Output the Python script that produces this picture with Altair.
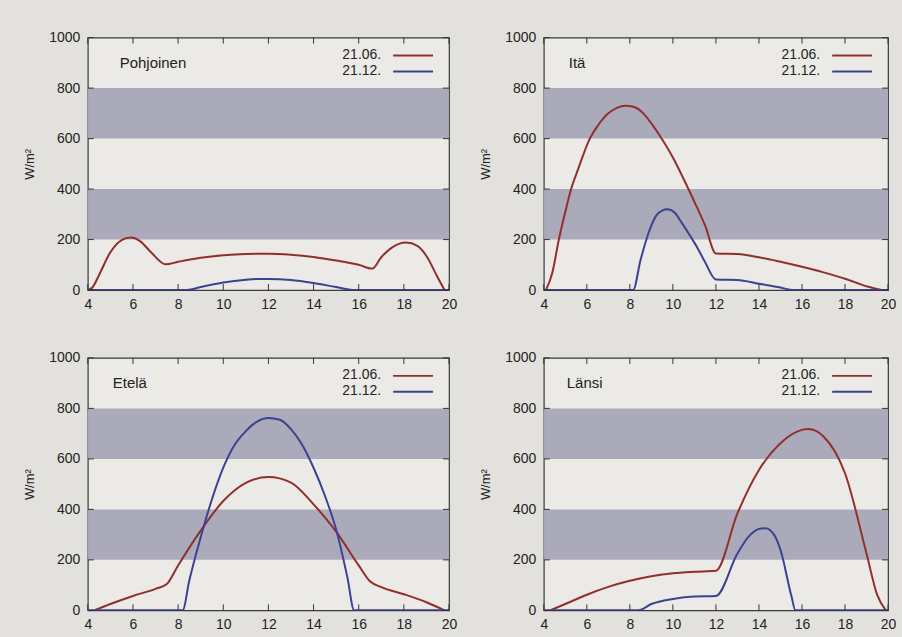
import altair as alt
import pandas as pd

# ---------------- data ----------------
north_jun_x = [4.0, 4.2, 4.5, 5.0, 5.5, 5.9, 6.3, 6.8, 7.45, 8, 9, 10, 11, 12, 13, 14, 15, 16, 16.6, 17, 17.5, 18.1, 18.6, 19, 19.5, 19.8]
north_jun_y = [0, 10, 60, 150, 198, 208, 195, 150, 102, 112, 128, 138, 143, 144, 140, 131, 117, 100, 85, 130, 170, 188, 175, 135, 50, 0]
north_dec_x = [4, 8.4, 9, 10, 11, 11.5, 12, 13, 14, 15, 15.8, 20]
north_dec_y = [0, 0, 12, 30, 41, 44, 44, 40, 28, 12, 0, 0]

east_jun_x = [4.1, 4.4, 4.7, 5.0, 5.27, 5.6, 6.14, 6.5, 7.0, 7.4, 7.8, 8.2, 8.6, 9.0, 9.4, 10.0, 10.5, 11.0, 11.5, 12.0, 13, 14, 15, 16, 17, 18, 19, 19.7]
east_jun_y = [0, 70, 200, 310, 400, 480, 600, 650, 700, 722, 730, 725, 702, 660, 610, 525, 440, 350, 255, 145, 143, 130, 112, 92, 70, 45, 15, 0]
east_dec_x = [4, 8.15, 8.5, 8.9, 9.25, 9.5, 9.75, 10.1, 10.4, 10.8, 11.15, 11.5, 12.0, 13, 14, 15, 15.6, 20]
east_dec_y = [0, 0, 120, 234, 298, 315, 320, 305, 268, 215, 166, 110, 42, 40, 25, 10, 0, 0]

south_jun_x = [4.3, 5, 6, 7, 7.5, 8, 9, 10, 11, 12, 13, 14, 15, 16, 16.5, 17, 18, 19, 19.8]
south_jun_y = [0, 25, 57, 85, 104, 178, 316, 433, 505, 528, 506, 420, 312, 178, 115, 92, 64, 32, 0]
south_dec_x = [4, 8.2, 8.5, 9, 9.5, 10, 10.5, 11, 11.5, 12, 12.5, 13, 13.5, 14, 14.5, 15, 15.5, 15.8, 20]
south_dec_y = [0, 0, 120, 290, 440, 565, 655, 710, 748, 762, 755, 718, 655, 565, 455, 320, 130, 0, 0]

west_jun_x = [4.3, 5, 6, 7, 8, 9, 10, 11, 12, 13, 14, 15, 16, 16.3, 17, 18, 19, 19.5, 19.9]
west_jun_y = [0, 25, 62, 93, 117, 135, 147, 153, 157, 384, 556, 662, 715, 718, 689, 543, 225, 60, 0]
west_dec_x = [4, 8.4, 9, 10, 11, 12, 13, 13.5, 14, 14.3, 14.7, 15, 15.5, 15.7, 20]
west_dec_y = [0, 0, 25, 45, 55, 57, 225, 290, 322, 325, 300, 240, 60, 0, 0]

series_names = ["21.06.", "21.12."]
panel_names = ["Pohjoinen", "Itä", "Etelä", "Länsi"]
x_ticks = [4, 6, 8, 10, 12, 14, 16, 18, 20]
y_ticks = [0, 200, 400, 600, 800, 1000]
band_low = [200, 600]
band_high = [400, 800]

RED = "#902f2c"
BLUE = "#3d4192"
FONT = "Liberation Sans"
COLORS = [RED, BLUE]

raw = {
    "Pohjoinen": [(north_jun_x, north_jun_y), (north_dec_x, north_dec_y)],
    "Itä": [(east_jun_x, east_jun_y), (east_dec_x, east_dec_y)],
    "Etelä": [(south_jun_x, south_jun_y), (south_dec_x, south_dec_y)],
    "Länsi": [(west_jun_x, west_jun_y), (west_dec_x, west_dec_y)],
}

H = 253

xt_df = pd.DataFrame({"t": x_ticks})
yt_df = pd.DataFrame({"t": y_ticks})
band_df = pd.DataFrame({"lo": band_low, "hi": band_high})


def panel(name, W, label_x):
    rows = []
    for s, (xs, ys) in zip(series_names, raw[name]):
        for a, b in zip(xs, ys):
            rows.append({"h": a, "v": b, "s": s})
    df = pd.DataFrame(rows)

    xsc = alt.Scale(domain=[4, 20], nice=False, zero=False)
    ysc = alt.Scale(domain=[0, 1000], nice=False)

    bands = alt.Chart(band_df).mark_rect(color="#a8a7b8", opacity=0.95).encode(
        y=alt.Y("lo:Q", scale=ysc,
                axis=alt.Axis(values=y_ticks, format="d", title="W/m²", grid=False, ticks=False,
                              domain=False, labelPadding=8, titlePadding=12, labelFlush=False)),
        y2="hi:Q",
        x=alt.value(0), x2=alt.value(W),
    )

    lines = alt.Chart(df).mark_line(strokeWidth=2, interpolate="monotone", clip=True).encode(
        x=alt.X("h:Q", scale=xsc,
                axis=alt.Axis(values=x_ticks, format="d", title=None, grid=False, ticks=False,
                              domain=False, labelPadding=7, labelFlush=False)),
        y=alt.Y("v:Q", scale=ysc),
        color=alt.Color("s:N", scale=alt.Scale(domain=series_names, range=COLORS), legend=None),
        detail="s:N",
    )

    tb = alt.Chart(xt_df).mark_rule(color="#333", strokeWidth=1).encode(
        x=alt.X("t:Q", scale=xsc), y=alt.value(H), y2=alt.value(H - 6))
    tt = alt.Chart(xt_df).mark_rule(color="#333", strokeWidth=1).encode(
        x=alt.X("t:Q", scale=xsc), y=alt.value(0), y2=alt.value(6))
    tl = alt.Chart(yt_df).mark_rule(color="#333", strokeWidth=1).encode(
        y=alt.Y("t:Q", scale=ysc), x=alt.value(0), x2=alt.value(6))
    tr = alt.Chart(yt_df).mark_rule(color="#333", strokeWidth=1).encode(
        y=alt.Y("t:Q", scale=ysc), x=alt.value(W), x2=alt.value(W - 6))

    layers = [bands, lines, tb, tt, tl, tr]
    for i, s in enumerate(series_names):
        ld = pd.DataFrame({"s": [s]})
        yy = 17 + 16 * i
        layers.append(alt.Chart(ld).mark_text(
            align="right", baseline="middle", fontSize=14, font=FONT, color="#222").encode(
            text="s:N", x=alt.value(W - 68), y=alt.value(yy)))
        layers.append(alt.Chart(ld).mark_rule(strokeWidth=2, color=COLORS[i]).encode(
            x=alt.value(W - 56), x2=alt.value(W - 16), y=alt.value(yy + 1)))

    layers.append(alt.Chart(pd.DataFrame({"n": [name]})).mark_text(
        align="left", baseline="middle", fontSize=15, font=FONT, color="#222").encode(
        text="n:N", x=alt.value(label_x), y=alt.value(25)))

    return alt.layer(*layers).properties(width=W, height=H)


top = alt.hconcat(panel("Pohjoinen", 362, 32), panel("Itä", 345, 25), spacing=21)
bottom = alt.hconcat(panel("Etelä", 362, 25), panel("Länsi", 345, 23), spacing=21)

chart = alt.vconcat(top, bottom, spacing=38).properties(
    background="#e3e1de",
    padding={"left": 23, "top": 29, "right": 5, "bottom": 5},
).configure_view(
    fill="#ebeae7", stroke="#3a3a3a", strokeWidth=1.2
).configure_axis(
    labelFont=FONT, labelFontSize=14, labelColor="#222",
    titleFont=FONT, titleFontSize=13, titleColor="#222", titleFontWeight="normal",
)

chart.save("out.html", embed_options={"renderer": "svg", "actions": False})
